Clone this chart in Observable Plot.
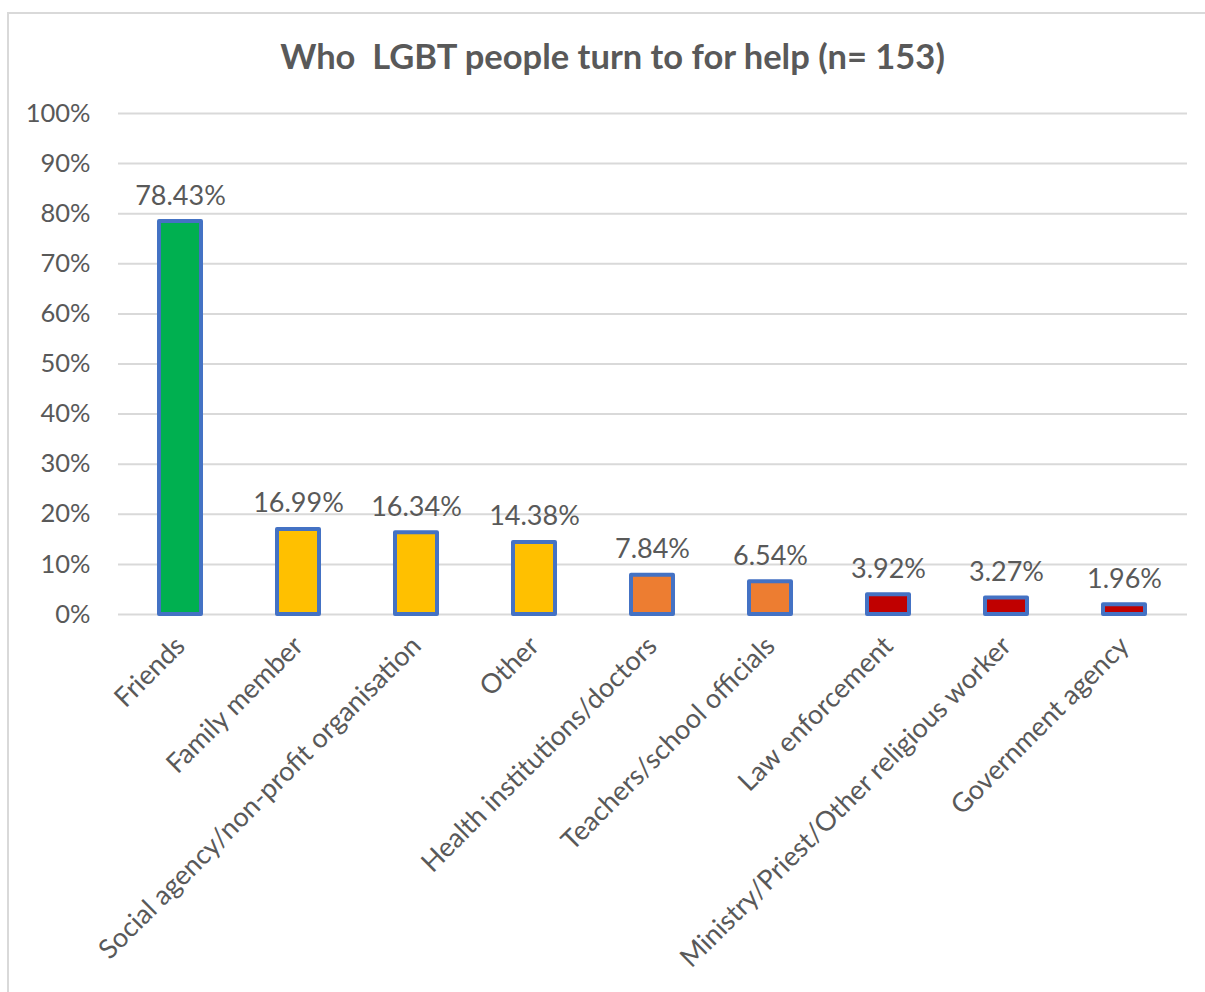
<!DOCTYPE html>
<html>
<head>
<meta charset="utf-8">
<script src="https://cdn.jsdelivr.net/npm/d3@7"></script>
<script src="https://cdn.jsdelivr.net/npm/@observablehq/plot@0.6"></script>
<style>
  html, body { margin: 0; padding: 0; background: #fff; overflow: hidden; }
  #wrap { position: relative; width: 1205px; height: 992px; overflow: hidden; font-family: Lato, "Open Sans", sans-serif; }
  #frame { position: absolute; left: 7px; top: 12px; width: 1400px; height: 1200px; border: 2px solid #d9d9d9; box-sizing: border-box; }
  #title { position: absolute; left: 0; top: 35px; width: 1225px; text-align: center; font-weight: bold; font-size: 34.5px; color: #595959; }
  #chart { position: absolute; left: 0; top: 95px; }
</style>
</head>
<body>
<div id="wrap">
  <div id="frame"></div>
  <div id="title">Who&nbsp; LGBT people turn to for help (n= 153)</div>
  <div id="chart"></div>
</div>
<script>
const categories = [
  "Friends",
  "Family member",
  "Social agency/non-profit organisation",
  "Other",
  "Health institutions/doctors",
  "Teachers/school officials",
  "Law enforcement",
  "Ministry/Priest/Other religious worker",
  "Government agency"
];
const values = [0.7843, 0.1699, 0.1634, 0.1438, 0.0784, 0.0654, 0.0392, 0.0327, 0.0196];
const barColors = ["#00B050", "#FFC000", "#FFC000", "#FFC000", "#ED7D31", "#ED7D31", "#C00000", "#C00000", "#C00000"];
const yTicks = [0, 0.1, 0.2, 0.3, 0.4, 0.5, 0.6, 0.7, 0.8, 0.9, 1.0];

const data = categories.map((c, i) => ({category: c, value: values[i], color: barColors[i]}));

const chart = Plot.plot({
  width: 1205,
  height: 897,
  marginTop: 18,
  marginBottom: 378,
  marginLeft: 118,
  marginRight: 18,
  style: {fontFamily: "Lato, 'Open Sans', sans-serif", fontSize: "25px", color: "#595959", background: "transparent"},
  x: {domain: categories, paddingInner: 0.64, paddingOuter: 0.32, label: null},
  y: {domain: [0, 1], label: null},
  marks: [
    Plot.gridY(yTicks, {stroke: "#d9d9d9", strokeOpacity: 1, strokeWidth: 2}),
    Plot.axisY(yTicks, {tickSize: 0, tickPadding: 28, tickFormat: d => Math.round(d * 100) + "%", fill: "#595959", fontSize: 25.5, label: null}),
    Plot.axisX({tickSize: 0, tickPadding: 27, tickRotate: -45, fill: "#595959", fontSize: 27, label: null}),
    Plot.barY(data, {x: "category", y: "value", fill: "color", stroke: "#4472C4", strokeWidth: 4, strokeLinejoin: "round"}),
    Plot.text(data, {x: "category", y: "value", text: d => (d.value * 100).toFixed(2) + "%", dy: -17, lineAnchor: "bottom", fill: "#595959", fontSize: 27})
  ]
});
document.getElementById("chart").appendChild(chart);
</script>
</body>
</html>
